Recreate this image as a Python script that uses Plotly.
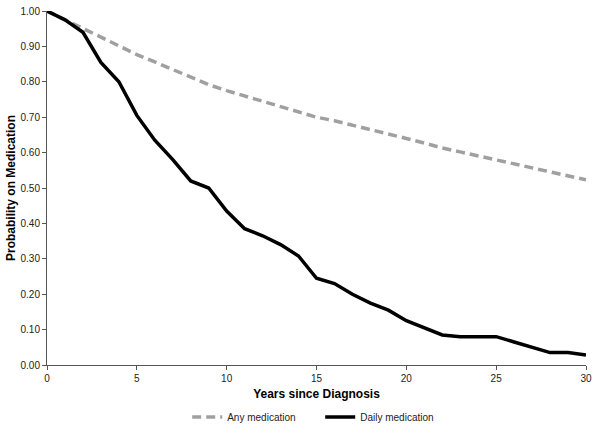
import plotly.graph_objects as go

years = list(range(0, 31))

any_medication = [1.00, 0.975, 0.95, 0.925, 0.90, 0.877, 0.856, 0.835, 0.812, 0.792,
                  0.775, 0.76, 0.745, 0.73, 0.715, 0.70, 0.69, 0.678, 0.665, 0.652,
                  0.64, 0.627, 0.613, 0.602, 0.591, 0.58, 0.569, 0.558, 0.546, 0.535,
                  0.523]

daily_medication = [1.00, 0.975, 0.94, 0.855, 0.80, 0.705, 0.635, 0.58, 0.52, 0.50,
                    0.435, 0.385, 0.365, 0.34, 0.308, 0.245, 0.23, 0.20, 0.175, 0.155,
                    0.125, 0.105, 0.085, 0.08, 0.08, 0.08, 0.065, 0.05, 0.035, 0.035,
                    0.028]

fig = go.Figure()

fig.add_trace(go.Scatter(
    x=years, y=any_medication, mode='lines', name='Any medication',
    line=dict(color='#a0a0a0', width=3.5, dash='9px,5px')
))
fig.add_trace(go.Scatter(
    x=years, y=daily_medication, mode='lines', name='Daily medication',
    line=dict(color='black', width=3.5)
))

font_family = 'Liberation Sans, Arial, sans-serif'

fig.update_layout(
    width=600, height=430,
    margin=dict(l=47, r=14, t=11, b=65),
    plot_bgcolor='white', paper_bgcolor='white',
    font=dict(family=font_family, size=10, color='#222'),
    showlegend=True,
    legend=dict(orientation='h', x=0.312, xanchor='left', xref='container',
                y=0.03, yanchor='middle', yref='container',
                entrywidth=88, entrywidthmode='pixels',
                font=dict(family=font_family, size=10, color='#222')),
    xaxis=dict(
        range=[0, 30], tickvals=[0, 5, 10, 15, 20, 25, 30],
        showline=True, linecolor='#555', linewidth=1,
        ticks='outside', ticklen=4, tickcolor='#555',
        showgrid=False, zeroline=False, automargin=False,
        title=dict(text='<b>Years since Diagnosis</b>', standoff=6,
                   font=dict(family=font_family, size=12, color='black')),
    ),
    yaxis=dict(
        range=[0, 1.0], dtick=0.1, tickformat='.2f',
        showline=True, linecolor='#555', linewidth=1,
        ticks='outside', ticklen=4, tickcolor='#555',
        showgrid=False, zeroline=False, automargin=False,
        title=dict(text='<b>Probability on Medication</b>', standoff=2,
                   font=dict(family=font_family, size=12, color='black')),
    ),
)

# drop the default body margin so the figure sits at the page corner
fig.write_html("out.html", config={'displayModeBar': False},
               post_script="document.body.style.margin='0';")
